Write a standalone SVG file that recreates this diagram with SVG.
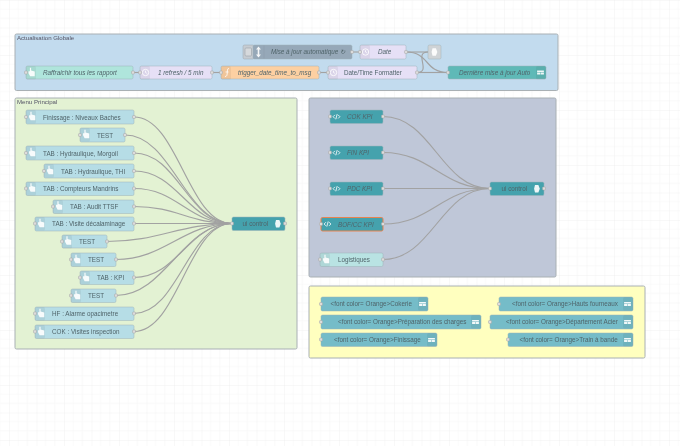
<svg xmlns="http://www.w3.org/2000/svg" xmlns:xlink="http://www.w3.org/1999/xlink" width="680" height="446" viewBox="0 0 680 446">
<style>
text{font-family:"Liberation Sans",Arial,sans-serif;font-size:6.3px;fill:#50646a}
.i{font-style:italic}
.g{stroke:#a9b0b4;stroke-width:1}
.gl{font-size:6.1px;fill:#556}
.n{stroke:#9fb2b8;stroke-width:.5}
.p{fill:#dcdcdc;stroke:#a2a2a2;stroke-width:.5}
.w{fill:none;stroke:#a2a2a2;stroke-width:1.15}
.bl{fill:#b6dde6}.te{fill:#45a2ad}.la{fill:#e6e0f6}.or{fill:#fdd0a2}.aq{fill:#afe5dc}.dm{fill:#5fb9b7}.ye{fill:#74bcc8}.lo{fill:#b9e3e3}
.ic{fill:#fff;fill-opacity:.9}
.il{fill:none;stroke:#fff;stroke-opacity:.9;stroke-width:.9}
.t{fill:#000;fill-opacity:.05}
</style>
<defs>
<pattern id="grid" width="27.5" height="27.5" patternUnits="userSpaceOnUse" x="9" y="0"><path d="M9.170 0V27.500M18.330 0V27.500M0 9.170H27.500M0 18.330H27.500" fill="none" stroke="#f6f6f6" stroke-width=".6"/><path d="M27.500 0H0V27.500" fill="none" stroke="#ededed" stroke-width=".7"/></pattern>
<filter id="soft" x="0" y="0" width="100%" height="100%"><feGaussianBlur stdDeviation="0.3"/></filter>
<g id="hand"><path class="ic" transform="scale(1.35)" d="M-2.2 0.5 L-2.2-1 L-1.2-1 L-1.2-3.6 L-0.3-3.6 L-0.3-1.4 L2.4-0.8 L2.4 2.8 L-1 2.8Z"/></g>
<g id="clock"><circle class="il" r="3.2"/><path class="il" d="M0-1.8V0L1.3 .8"/></g>
<g id="code"><path class="il" d="M-1.6-1.8L-3.4 0L-1.6 1.8M1.6-1.8L3.4 0L1.6 1.8M.7-2.6L-.7 2.6"/></g>
<g id="dash"><path class="ic" d="M-3.4-2H3.4V-.5H-3.4ZM-3.4 0H-.2V2H-3.4ZM.3 0H3.4V2H.3Z"/></g>
<g id="uic"><path class="ic" d="M-2-3.800H1.400L2.800 0L1.400 3.800H-2L-2.900 0Z"/></g>
<rect id="tab" class="t" width="10" height="13.500" rx="1.500"/>
</defs>
<g filter="url(#soft)">
<rect width="680" height="446" fill="#fff"/>
<rect width="680" height="446" fill="url(#grid)"/>

<g id="group-actualisation"><rect class="g" x="15" y="34" width="543" height="56.500" rx="1.500" fill="#c2dbee"/><text class="gl" x="17" y="40">Actualisation Globale</text></g>
<g id="group-menu"><rect class="g" x="15" y="98" width="282" height="251" rx="1.500" fill="#e3f2d3"/><text class="gl" x="17" y="104">Menu Principal</text></g>
<g id="group-kpi"><rect class="g" x="309" y="98" width="247" height="179" rx="1.500" fill="#bfc7d8"/></g>
<g id="group-yellow"><rect class="g" x="309" y="286" width="336" height="72" rx="1.500" fill="#ffffbf"/></g>

<g id="connectors">
<path class="w" d="M133 72.500C136 72.500 137 72.500 140 72.500"/>
<path class="w" d="M212 72.500C216 72.500 217 72.500 221 72.500"/>
<path class="w" d="M319 72.500C323 72.500 324 72.500 328 72.500"/>
<path class="w" d="M352 52C356 52 356 52 360 52"/>
<path class="w" d="M406 52C414 52 420 52 428 52"/>
<path class="w" d="M406 52C430 52 424 72.500 448 72.500"/>
<path class="w" d="M417 72.500C432 72.500 413 52 428 52"/>
<path class="w" d="M417 72.500C427 72.500 438 72.500 448 72.500"/>
<path class="w" d="M134 117C178 117 188 223.500 232 223.500"/>
<path class="w" d="M125 135C172 135 185 223.500 232 223.500"/>
<path class="w" d="M134 153C178 153 188 223.500 232 223.500"/>
<path class="w" d="M134 171C178 171 188 223.500 232 223.500"/>
<path class="w" d="M134 188.500C178 188.500 188 223.500 232 223.500"/>
<path class="w" d="M134 206.500C178 206.500 188 223.500 232 223.500"/>
<path class="w" d="M134 223.500C178 223.500 188 223.500 232 223.500"/>
<path class="w" d="M107 241.500C160 241.500 179 223.500 232 223.500"/>
<path class="w" d="M116 259.500C165 259.500 183 223.500 232 223.500"/>
<path class="w" d="M134 277.500C178 277.500 188 223.500 232 223.500"/>
<path class="w" d="M116 295.500C165 295.500 183 223.500 232 223.500"/>
<path class="w" d="M134 313.500C178 313.500 188 223.500 232 223.500"/>
<path class="w" d="M134 331.500C178 331.500 188 223.500 232 223.500"/>
<path class="w" d="M383 116.500C432 116.500 441 188.500 490 188.500"/>
<path class="w" d="M383 152.500C432 152.500 441 188.500 490 188.500"/>
<path class="w" d="M383 188.500C432 188.500 441 188.500 490 188.500"/>
<path class="w" d="M383 224C432 224 441 188.500 490 188.500"/>
<path class="w" d="M383 259.500C432 259.500 441 188.500 490 188.500"/>
</g>

<g id="n-inject"><rect class="n aq" x="26" y="66" width="107" height="13" rx="1.500"/><use xlink:href="#tab" x="26" y="66"/><use xlink:href="#hand" x="31.500" y="72.500"/><text class="i" x="43" y="74.700">Raffraichir tous les rapport</text><rect class="p" x="24.500" y="71" width="3" height="3" rx=".8"/><rect class="p" x="131.500" y="71" width="3" height="3" rx=".8"/></g>
<g id="n-refresh"><rect class="n la" x="140" y="66" width="72" height="13" rx="1.500"/><use xlink:href="#tab" x="140" y="66"/><use xlink:href="#clock" x="145.500" y="72.500"/><text class="i" x="158" y="74.700">1 refresh / 5 min</text><rect class="p" x="138.500" y="71" width="3" height="3" rx=".8"/><rect class="p" x="210.500" y="71" width="3" height="3" rx=".8"/></g>
<g id="n-trigger"><rect class="n or" x="221" y="66" width="98" height="13" rx="1.500"/><use xlink:href="#tab" x="221" y="66"/><path class="il" d="M229 68.500C227 68.500 227.500 70.500 227.300 72.500C227.100 75 227 76.500 225 76.500M225.500 72H228.500"/><text class="i" x="238" y="74.700">trigger_date_time_to_msg</text><rect class="p" x="219.500" y="71" width="3" height="3" rx=".8"/><rect class="p" x="317.500" y="71" width="3" height="3" rx=".8"/></g>
<g id="n-formatter"><rect class="n la" x="328" y="66" width="89" height="13" rx="1.500"/><use xlink:href="#tab" x="328" y="66"/><use xlink:href="#clock" x="333.500" y="72.500"/><text x="344" y="74.700">Date/Time Formatter</text><rect class="p" x="326.500" y="71" width="3" height="3" rx=".8"/><rect class="p" x="415.500" y="71" width="3" height="3" rx=".8"/></g>
<g id="n-derniere"><rect class="n dm" x="448" y="66" width="98" height="13" rx="1.500"/><use xlink:href="#tab" x="536" y="66"/><use xlink:href="#dash" x="540.500" y="72.500"/><text class="i" x="459" y="74.700">Dernière mise à jour Auto</text><rect class="p" x="446.500" y="71" width="3" height="3" rx=".8"/></g>
<g id="n-switch"><rect x="243" y="45" width="11" height="14" rx="1.500" fill="#c6ccd2" stroke="#9aa4ac" stroke-width=".5"/><rect x="245" y="48" width="6.500" height="8" rx="1" fill="#d6d9dc" stroke="#8f969c" stroke-width=".5"/><rect class="n" x="253" y="45" width="99" height="14" rx="1.500" fill="#96a8b8"/><path class="ic" d="M258.500 46.500L261 49.500H259.300V54.500H261L258.500 57.500L256 54.500H257.700V49.500H256Z"/><line x1="264" y1="45.500" x2="264" y2="58.500" stroke="#000" stroke-opacity=".08" stroke-width=".5"/><text class="i" x="271" y="53.800">Mise à jour automatique ↻</text><rect class="p" x="350.500" y="50.500" width="3" height="3" rx=".8"/></g>
<g id="n-date"><rect class="n la" x="360" y="45" width="46" height="14" rx="1.500"/><use xlink:href="#tab" x="360" y="45"/><use xlink:href="#clock" x="365.500" y="52"/><text class="i" x="378" y="54">Date</text><rect class="p" x="358.500" y="50.500" width="3" height="3" rx=".8"/><rect class="p" x="404.500" y="50.500" width="3" height="3" rx=".8"/></g>
<g id="n-output"><rect class="n" x="428" y="45" width="13" height="14" rx="1.500" fill="#cfd3d6"/><use xlink:href="#uic" x="434.500" y="52"/></g>

<g id="n-finissage"><rect class="n bl" x="26" y="110" width="108" height="14" rx="1.500"/><use xlink:href="#tab" x="26" y="110"/><use xlink:href="#hand" x="32" y="116.500"/><text x="43" y="119.500">Finissage : Niveaux Baches</text><rect class="p" x="24.500" y="115.500" width="3" height="3" rx=".8"/><rect class="p" x="132.500" y="115.500" width="3" height="3" rx=".8"/></g>
<g id="n-test1"><rect class="n bl" x="80" y="128" width="45" height="14" rx="1.500"/><use xlink:href="#tab" x="80" y="128"/><use xlink:href="#hand" x="86" y="134.500"/><text x="97" y="137.500">TEST</text><rect class="p" x="78.500" y="133.500" width="3" height="3" rx=".8"/><rect class="p" x="123.500" y="133.500" width="3" height="3" rx=".8"/></g>
<g id="n-morgoil"><rect class="n bl" x="26" y="146" width="108" height="14" rx="1.500"/><use xlink:href="#tab" x="26" y="146"/><use xlink:href="#hand" x="32" y="152.500"/><text x="43" y="155.500">TAB : Hydraulique, Morgoil</text><rect class="p" x="24.500" y="151.500" width="3" height="3" rx=".8"/><rect class="p" x="132.500" y="151.500" width="3" height="3" rx=".8"/></g>
<g id="n-thi"><rect class="n bl" x="44" y="164" width="90" height="14" rx="1.500"/><use xlink:href="#tab" x="44" y="164"/><use xlink:href="#hand" x="50" y="170.500"/><text x="61" y="173.500">TAB : Hydraulique, THI</text><rect class="p" x="42.500" y="169.500" width="3" height="3" rx=".8"/><rect class="p" x="132.500" y="169.500" width="3" height="3" rx=".8"/></g>
<g id="n-mandrins"><rect class="n bl" x="26" y="182" width="108" height="13.500" rx="1.500"/><use xlink:href="#tab" x="26" y="182"/><use xlink:href="#hand" x="32" y="188"/><text x="43" y="191.200">TAB : Compteurs Mandrins</text><rect class="p" x="24.500" y="187" width="3" height="3" rx=".8"/><rect class="p" x="132.500" y="187" width="3" height="3" rx=".8"/></g>
<g id="n-audit"><rect class="n bl" x="53" y="200" width="81" height="13.500" rx="1.500"/><use xlink:href="#tab" x="53" y="200"/><use xlink:href="#hand" x="59" y="206"/><text x="70" y="209.200">TAB : Audit TTSF</text><rect class="p" x="51.500" y="205" width="3" height="3" rx=".8"/><rect class="p" x="132.500" y="205" width="3" height="3" rx=".8"/></g>
<g id="n-visite"><rect class="n bl" x="35" y="217" width="99" height="14" rx="1.500"/><use xlink:href="#tab" x="35" y="217"/><use xlink:href="#hand" x="41" y="223.500"/><text x="52" y="226.200">TAB : Visite décalaminage</text><rect class="p" x="33.500" y="222" width="3" height="3" rx=".8"/><rect class="p" x="132.500" y="222" width="3" height="3" rx=".8"/></g>
<g id="n-test2"><rect class="n bl" x="62" y="235" width="45" height="13" rx="1.500"/><use xlink:href="#tab" x="62" y="235"/><use xlink:href="#hand" x="68" y="241"/><text x="79" y="243.900">TEST</text><rect class="p" x="60.500" y="240" width="3" height="3" rx=".8"/><rect class="p" x="105.500" y="240" width="3" height="3" rx=".8"/></g>
<g id="n-test3"><rect class="n bl" x="71" y="253" width="45" height="13.500" rx="1.500"/><use xlink:href="#tab" x="71" y="253"/><use xlink:href="#hand" x="77" y="259.500"/><text x="88" y="262">TEST</text><rect class="p" x="69.500" y="258" width="3" height="3" rx=".8"/><rect class="p" x="114.500" y="258" width="3" height="3" rx=".8"/></g>
<g id="n-kpi"><rect class="n bl" x="80" y="271" width="54" height="13.500" rx="1.500"/><use xlink:href="#tab" x="80" y="271"/><use xlink:href="#hand" x="86" y="277.500"/><text x="97" y="280">TAB : KPI</text><rect class="p" x="78.500" y="276" width="3" height="3" rx=".8"/><rect class="p" x="132.500" y="276" width="3" height="3" rx=".8"/></g>
<g id="n-test4"><rect class="n bl" x="71" y="289" width="45" height="13.500" rx="1.500"/><use xlink:href="#tab" x="71" y="289"/><use xlink:href="#hand" x="77" y="295.500"/><text x="88" y="298">TEST</text><rect class="p" x="69.500" y="294" width="3" height="3" rx=".8"/><rect class="p" x="114.500" y="294" width="3" height="3" rx=".8"/></g>
<g id="n-hf"><rect class="n bl" x="35" y="307" width="99" height="13.500" rx="1.500"/><use xlink:href="#tab" x="35" y="307"/><use xlink:href="#hand" x="41" y="313.500"/><text x="52" y="316">HF : Alarme opacimetre</text><rect class="p" x="33.500" y="312" width="3" height="3" rx=".8"/><rect class="p" x="132.500" y="312" width="3" height="3" rx=".8"/></g>
<g id="n-cok"><rect class="n bl" x="35" y="325" width="99" height="13.500" rx="1.500"/><use xlink:href="#tab" x="35" y="325"/><use xlink:href="#hand" x="41" y="331.500"/><text x="52" y="334">COK : Visites inspection</text><rect class="p" x="33.500" y="330" width="3" height="3" rx=".8"/><rect class="p" x="132.500" y="330" width="3" height="3" rx=".8"/></g>
<g id="n-uicontrol1"><rect class="n te" x="232" y="217" width="53" height="13.500" rx="1.500"/><use xlink:href="#uic" x="278" y="223.700"/><text x="242.500" y="226">ui control</text><rect class="p" x="230.500" y="222" width="3" height="3" rx=".8"/><rect class="p" x="283.500" y="222" width="3" height="3" rx=".8"/></g>

<g id="n-cok-kpi"><rect class="n te" x="330" y="110" width="53" height="13.500" rx="1.500"/><use xlink:href="#code" x="336.500" y="116.700"/><text class="i" x="347" y="119">COK KPI</text><rect class="p" x="328.500" y="115" width="3" height="3" rx=".8"/><rect class="p" x="381.500" y="115" width="3" height="3" rx=".8"/></g>
<g id="n-fin-kpi"><rect class="n te" x="330" y="146" width="53" height="13.500" rx="1.500"/><use xlink:href="#code" x="336.500" y="152.700"/><text class="i" x="347" y="155">FIN KPI</text><rect class="p" x="328.500" y="151" width="3" height="3" rx=".8"/><rect class="p" x="381.500" y="151" width="3" height="3" rx=".8"/></g>
<g id="n-pdc-kpi"><rect class="n te" x="330" y="182" width="53" height="13.500" rx="1.500"/><use xlink:href="#code" x="336.500" y="188.700"/><text class="i" x="347" y="191">PDC KPI</text><rect class="p" x="328.500" y="187" width="3" height="3" rx=".8"/><rect class="p" x="381.500" y="187" width="3" height="3" rx=".8"/></g>
<g id="n-bof-kpi"><rect class="te" x="321" y="217.500" width="62" height="13.500" rx="1.500" stroke="#e8834f" stroke-width="1"/><use xlink:href="#code" x="327.500" y="224"/><text class="i" x="338" y="226.500">BOF/CC KPI</text><rect class="p" x="319.500" y="222.500" width="3" height="3" rx=".8"/><rect class="p" x="381.500" y="222.500" width="3" height="3" rx=".8"/></g>
<g id="n-logistiques"><rect class="n lo" x="320" y="253" width="63" height="13.500" rx="1.500"/><use xlink:href="#tab" x="320" y="253"/><use xlink:href="#hand" x="326" y="259.500"/><text x="338" y="262">Logistiques</text><rect class="p" x="318.500" y="258" width="3" height="3" rx=".8"/><rect class="p" x="381.500" y="258" width="3" height="3" rx=".8"/></g>
<g id="n-uicontrol2"><rect class="n te" x="490" y="182" width="54" height="13.500" rx="1.500"/><use xlink:href="#uic" x="537" y="188.700"/><text x="501.500" y="191">ui control</text><rect class="p" x="488.500" y="187" width="3" height="3" rx=".8"/><rect class="p" x="542.500" y="187" width="3" height="3" rx=".8"/></g>

<g id="n-cokerie"><rect class="n ye" x="321" y="297" width="107" height="14" rx="1.500"/><use xlink:href="#tab" x="418" y="297"/><use xlink:href="#dash" x="422.500" y="304"/><text x="330.500" y="306">&lt;font color= Orange&gt;Cokerie</text><rect class="p" x="319.500" y="302.500" width="3" height="3" rx=".8"/></g>
<g id="n-prep"><rect class="n ye" x="321" y="315" width="160" height="14" rx="1.500"/><use xlink:href="#tab" x="471" y="315"/><use xlink:href="#dash" x="475.500" y="322"/><text x="338" y="324">&lt;font color= Orange&gt;Préparation des charges</text><rect class="p" x="319.500" y="320.500" width="3" height="3" rx=".8"/></g>
<g id="n-finissage2"><rect class="n ye" x="321" y="333" width="116" height="13.500" rx="1.500"/><use xlink:href="#tab" x="427" y="333"/><use xlink:href="#dash" x="431.500" y="340"/><text x="334" y="342">&lt;font color= Orange&gt;Finissage</text><rect class="p" x="319.500" y="338" width="3" height="3" rx=".8"/></g>
<g id="n-hauts"><rect class="n ye" x="499" y="297" width="134" height="14" rx="1.500"/><use xlink:href="#tab" x="623" y="297"/><use xlink:href="#dash" x="627.500" y="304"/><text x="512" y="306">&lt;font color= Orange&gt;Hauts fourneaux</text><rect class="p" x="497.500" y="302.500" width="3" height="3" rx=".8"/></g>
<g id="n-acier"><rect class="n ye" x="490" y="315" width="143" height="14" rx="1.500"/><use xlink:href="#tab" x="623" y="315"/><use xlink:href="#dash" x="627.500" y="322"/><text x="506" y="324">&lt;font color= Orange&gt;Département Acier</text><rect class="p" x="488.500" y="320.500" width="3" height="3" rx=".8"/></g>
<g id="n-train"><rect class="n ye" x="508" y="333" width="125" height="13.500" rx="1.500"/><use xlink:href="#tab" x="623" y="333"/><use xlink:href="#dash" x="627.500" y="340"/><text x="519.500" y="342">&lt;font color= Orange&gt;Train à bande</text><rect class="p" x="506.500" y="338" width="3" height="3" rx=".8"/></g>
</g>
</svg>
